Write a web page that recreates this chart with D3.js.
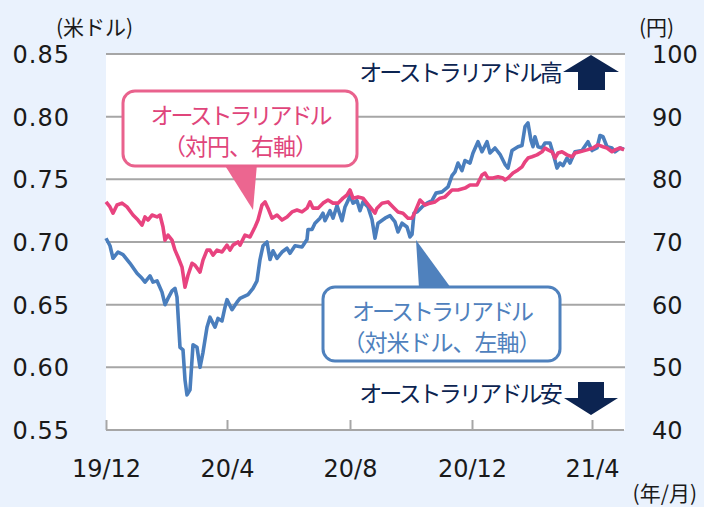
<!DOCTYPE html>
<html>
<head>
<meta charset="utf-8">
<script src="https://cdn.jsdelivr.net/npm/d3@7"></script>
<style>
  body { margin: 0; background: #eaf2fd; }
  svg { display: block; }
  .jp { font-family: "Noto Sans CJK JP", sans-serif; }
  .num { font-family: "DejaVu Sans", sans-serif; }
</style>
</head>
<body>
<div id="chart"></div>
<script>
// AUD/USD (left axis)
var usdDates = ["2019-12-31","2020-01-04","2020-01-07","2020-01-12","2020-01-17","2020-01-24","2020-01-31","2020-02-05","2020-02-08","2020-02-13",
  "2020-02-16","2020-02-20","2020-02-25","2020-02-28","2020-03-02","2020-03-06","2020-03-09","2020-03-11","2020-03-14","2020-03-17",
  "2020-03-19","2020-03-21","2020-03-24","2020-03-27","2020-03-31","2020-04-03","2020-04-06","2020-04-10","2020-04-13","2020-04-18",
  "2020-04-21","2020-04-25","2020-04-28","2020-04-30","2020-05-05","2020-05-10","2020-05-13","2020-05-21","2020-05-26","2020-05-30",
  "2020-06-02","2020-06-05","2020-06-09","2020-06-12","2020-06-15","2020-06-19","2020-06-24","2020-06-29","2020-07-02","2020-07-07",
  "2020-07-14","2020-07-19","2020-07-20","2020-07-24","2020-07-27","2020-08-01","2020-08-04","2020-08-06","2020-08-11","2020-08-14",
  "2020-08-18","2020-08-23","2020-08-26","2020-08-29","2020-08-31","2020-09-03","2020-09-07","2020-09-10","2020-09-13","2020-09-18",
  "2020-09-22","2020-09-25","2020-09-28","2020-10-05","2020-10-10","2020-10-15","2020-10-18","2020-10-22","2020-10-27","2020-10-30",
  "2020-11-01","2020-11-03","2020-11-06","2020-11-11","2020-11-16","2020-11-21","2020-11-25","2020-12-01","2020-12-07","2020-12-11",
  "2020-12-14","2020-12-17","2020-12-21","2020-12-24","2020-12-29","2021-01-01","2021-01-06","2021-01-10","2021-01-15","2021-01-18",
  "2021-01-23","2021-01-28","2021-02-02","2021-02-05","2021-02-09","2021-02-15","2021-02-19","2021-02-22","2021-02-25","2021-02-28",
  "2021-03-02","2021-03-04","2021-03-07","2021-03-11","2021-03-14","2021-03-19","2021-03-22","2021-03-26","2021-03-29","2021-04-01",
  "2021-04-05","2021-04-08","2021-04-13","2021-04-20","2021-04-26","2021-04-30","2021-05-05","2021-05-08","2021-05-11","2021-05-15",
  "2021-05-20","2021-05-23","2021-05-28","2021-06-01"];
var usdValues = [0.703,0.697,0.687,0.692,0.690,0.683,0.675,0.671,0.668,0.673,
  0.668,0.669,0.660,0.650,0.655,0.661,0.663,0.656,0.616,0.614,
  0.590,0.578,0.582,0.618,0.616,0.600,0.612,0.632,0.640,0.632,
  0.639,0.637,0.648,0.654,0.646,0.652,0.655,0.658,0.663,0.669,
  0.686,0.697,0.700,0.686,0.693,0.687,0.692,0.695,0.691,0.697,
  0.696,0.702,0.710,0.710,0.715,0.719,0.723,0.717,0.725,0.719,
  0.729,0.717,0.728,0.733,0.737,0.731,0.733,0.725,0.732,0.728,
  0.718,0.703,0.715,0.719,0.721,0.716,0.708,0.715,0.712,0.704,
  0.706,0.723,0.724,0.728,0.731,0.733,0.739,0.740,0.744,0.753,
  0.756,0.763,0.757,0.765,0.763,0.771,0.780,0.772,0.780,0.771,
  0.775,0.770,0.762,0.759,0.773,0.776,0.777,0.792,0.795,0.781,
  0.776,0.784,0.776,0.775,0.779,0.779,0.771,0.759,0.763,0.761,
  0.767,0.763,0.772,0.773,0.780,0.773,0.775,0.785,0.784,0.776,
  0.775,0.772,0.775,0.774];

// AUD/JPY (right axis)
var jpyDates = ["2019-12-31","2020-01-04","2020-01-07","2020-01-11","2020-01-16","2020-01-21","2020-01-27","2020-02-01","2020-02-05","2020-02-08",
  "2020-02-11","2020-02-15","2020-02-20","2020-02-23","2020-02-26","2020-02-28","2020-03-02","2020-03-06","2020-03-09","2020-03-12",
  "2020-03-16","2020-03-19","2020-03-22","2020-03-26","2020-03-29","2020-04-03","2020-04-06","2020-04-10","2020-04-13","2020-04-16",
  "2020-04-20","2020-04-25","2020-04-30","2020-05-03","2020-05-06","2020-05-11","2020-05-13","2020-05-18","2020-05-23","2020-05-28",
  "2020-05-31","2020-06-04","2020-06-07","2020-06-10","2020-06-14","2020-06-19","2020-06-24","2020-06-29","2020-07-04","2020-07-09",
  "2020-07-14","2020-07-19","2020-07-22","2020-07-25","2020-07-30","2020-08-04","2020-08-09","2020-08-14","2020-08-19","2020-08-24",
  "2020-08-28","2020-08-31","2020-09-03","2020-09-08","2020-09-13","2020-09-17","2020-09-22","2020-09-25","2020-09-27","2020-10-02",
  "2020-10-08","2020-10-13","2020-10-18","2020-10-23","2020-10-28","2020-11-01","2020-11-04","2020-11-09","2020-11-14","2020-11-19",
  "2020-11-24","2020-11-29","2020-12-04","2020-12-11","2020-12-17","2020-12-24","2020-12-29","2021-01-05","2021-01-10","2021-01-13",
  "2021-01-16","2021-01-21","2021-01-26","2021-01-31","2021-02-02","2021-02-05","2021-02-10","2021-02-15","2021-02-19","2021-02-22",
  "2021-02-25","2021-03-01","2021-03-06","2021-03-11","2021-03-14","2021-03-17","2021-03-21","2021-03-24","2021-03-27","2021-03-31",
  "2021-04-05","2021-04-10","2021-04-13","2021-04-18","2021-04-25","2021-05-01","2021-05-06","2021-05-11","2021-05-15","2021-05-20",
  "2021-05-23","2021-05-28","2021-06-01"];
var jpyValues = [76.4,75.6,74.6,75.9,76.2,75.6,74.3,73.5,72.7,74.0,
  73.5,74.3,74.0,74.3,72.4,70.3,71.1,70.3,68.7,67.6,
  66.0,62.8,64.7,66.6,66.3,65.2,67.1,68.7,68.7,67.9,
  68.7,68.4,69.5,68.7,69.5,70.0,69.5,71.1,70.8,72.4,
  73.5,75.9,76.4,75.4,73.8,74.3,73.5,74.0,74.8,75.1,
  74.8,75.4,76.4,75.4,75.4,76.2,76.7,76.2,76.2,77.0,
  77.5,78.3,77.0,77.2,77.0,76.2,75.2,74.6,75.4,76.2,
  76.4,75.6,74.8,74.6,73.8,73.8,74.8,76.7,75.9,76.2,
  76.4,77.0,77.2,78.3,78.3,78.6,79.1,79.1,80.7,81.0,
  80.2,80.2,80.4,80.2,79.9,80.2,81.0,81.5,82.0,82.8,
  83.4,83.6,83.9,84.4,85.0,84.7,84.4,83.4,84.2,84.4,
  83.9,83.6,84.2,84.4,84.7,85.0,85.5,85.2,85.0,84.4,
  84.7,85.0,84.7];

var xTickDates = ["2019-12-31","2020-04-30","2020-08-31","2020-12-31","2021-04-30"];
var xTickLabels = ["19/12","20/4","20/8","20/12","21/4"];
var leftTicks = [0.55,0.60,0.65,0.70,0.75,0.80,0.85];
var rightTicks = [40,50,60,70,80,90,100];

var parse = d3.timeParse("%Y-%m-%d");
var usd = usdDates.map(function(d, i) { return {date: parse(d), v: usdValues[i]}; });
var jpy = jpyDates.map(function(d, i) { return {date: parse(d), v: jpyValues[i]}; });

var W = 704, H = 507;
var pL = 106, pR = 625, pT = 54, pB = 430;

var svg = d3.select("#chart").append("svg")
    .attr("width", W)
    .attr("height", H);

svg.append("rect").attr("width", W).attr("height", H).attr("fill", "#eaf2fd");
svg.append("rect")
    .attr("x", pL).attr("y", pT - 1)
    .attr("width", pR - pL).attr("height", pB - pT + 1)
    .attr("fill", "#ffffff");

var x = d3.scaleTime()
    .domain([parse("2019-12-31"), parse("2021-06-02")])
    .range([pL, pR]);
var yL = d3.scaleLinear().domain([0.55, 0.85]).range([pB, pT]);
var yR = d3.scaleLinear().domain([40, 100]).range([pB, pT]);

// gridlines
svg.append("g")
  .selectAll("line")
  .data(leftTicks.slice(1))
  .enter().append("line")
    .attr("x1", pL).attr("x2", pR)
    .attr("y1", function(d) { return yL(d); })
    .attr("y2", function(d) { return yL(d); })
    .attr("stroke", "#a6a6a6")
    .attr("stroke-width", 2);

// x axis (ticks point up into the plot)
var xAxis = d3.axisBottom(x)
    .tickValues(xTickDates.map(parse))
    .tickSize(-10)
    .tickFormat(function(d, i) { return xTickLabels[i]; });

var gx = svg.append("g")
    .attr("transform", "translate(0," + pB + ")")
    .call(xAxis);
gx.select(".domain").remove();
gx.append("line")
    .attr("x1", pL).attr("x2", pR - 1)
    .attr("stroke", "#a6a6a6").attr("stroke-width", 2);
gx.selectAll(".tick line").attr("stroke", "#a6a6a6").attr("stroke-width", 2);
gx.selectAll(".tick text")
    .attr("class", "num")
    .attr("y", 47)
    .attr("dy", 0)
    .style("font-size", "24px")
    .attr("fill", "#1a1a1a");

// left axis
var gl = svg.append("g")
    .attr("transform", "translate(" + pL + ",0)")
    .call(d3.axisLeft(yL).tickValues(leftTicks).tickSize(0).tickFormat(d3.format(".2f")));
gl.select(".domain").remove();
gl.selectAll(".tick text")
    .attr("class", "num")
    .attr("x", -36)
    .attr("dy", "0.36em")
    .style("font-size", "24px")
    .style("letter-spacing", "1px")
    .attr("fill", "#1a1a1a");

// right axis
var gr = svg.append("g")
    .attr("transform", "translate(" + pR + ",0)")
    .call(d3.axisRight(yR).tickValues(rightTicks).tickSize(0));
gr.select(".domain").remove();
gr.selectAll(".tick text")
    .attr("class", "num")
    .attr("x", 27)
    .attr("dy", "0.36em")
    .style("font-size", "24px")
    .attr("fill", "#1a1a1a");

// unit labels
svg.append("text").attr("class", "jp").attr("x", 56).attr("y", 35)
    .style("font-size", "21px").attr("fill", "#1a1a1a").text("(米ドル)");
svg.append("text").attr("class", "jp").attr("x", 639).attr("y", 35)
    .style("font-size", "21px").attr("fill", "#1a1a1a").text("(円)");
svg.append("text").attr("class", "jp").attr("x", 697).attr("y", 501)
    .attr("text-anchor", "end")
    .style("font-size", "21px").attr("fill", "#1a1a1a").text("(年/月)");

// lines
var lineL = d3.line()
    .x(function(d) { return x(d.date); })
    .y(function(d) { return yL(d.v); });
var lineR = d3.line()
    .x(function(d) { return x(d.date); })
    .y(function(d) { return yR(d.v); });

svg.append("path")
    .datum(usd)
    .attr("d", lineL)
    .attr("fill", "none")
    .attr("stroke", "#4a7ebd")
    .attr("stroke-width", 3.6)
    .attr("stroke-linejoin", "round");

svg.append("path")
    .datum(jpy)
    .attr("d", lineR)
    .attr("fill", "none")
    .attr("stroke", "#e8437f")
    .attr("stroke-width", 3.6)
    .attr("stroke-linejoin", "round");

// high / low arrows
var navy = "#0c2451";
svg.append("path")
    .attr("d", "M578,90 L578,72 L563,72 L591,55 L619,72 L605,72 L605,90 Z")
    .attr("fill", navy);
svg.append("path")
    .attr("d", "M578,382 L578,398 L564,398 L591,415 L618,398 L604,398 L604,382 Z")
    .attr("fill", navy);

svg.append("text").attr("class", "jp")
    .attr("x", 560).attr("y", 81).attr("text-anchor", "end")
    .style("font-size", "23px").style("letter-spacing", "-2.8px")
    .attr("fill", navy).text("オーストラリアドル高");
svg.append("text").attr("class", "jp")
    .attr("x", 560).attr("y", 402).attr("text-anchor", "end")
    .style("font-size", "23px").style("letter-spacing", "-2.8px")
    .attr("fill", navy).text("オーストラリアドル安");

// callouts
function callout(bx, by, bw, bh, tri, stroke, fill, textColor, lines) {
  svg.append("path")
      .attr("d", "M" + tri.map(function(p) { return p.join(","); }).join(" L") + " Z")
      .attr("fill", fill);
  svg.append("rect")
      .attr("x", bx).attr("y", by)
      .attr("width", bw).attr("height", bh)
      .attr("rx", 12).attr("ry", 12)
      .attr("fill", "#ffffff")
      .attr("stroke", stroke)
      .attr("stroke-width", 3);
  lines.forEach(function(t, i) {
    svg.append("text").attr("class", "jp")
        .attr("x", bx + bw / 2).attr("y", by + 33 + i * 31)
        .attr("text-anchor", "middle")
        .style("font-size", "23px").style("letter-spacing", i === 0 ? "-3px" : "-1px")
        .attr("fill", textColor)
        .text(t);
  });
}

callout(123, 91, 234, 75, [[224, 164], [257, 164], [253, 210]],
  "#e9628d", "#ec6690", "#e0457b", ["オーストラリアドル", "（対円、右軸）"]);
callout(323, 287, 237, 74, [[419, 288], [451, 288], [416, 240]],
  "#4f81bd", "#4f81bd", "#4f81bd", ["オーストラリアドル", "（対米ドル、左軸）"]);
</script>
</body>
</html>
